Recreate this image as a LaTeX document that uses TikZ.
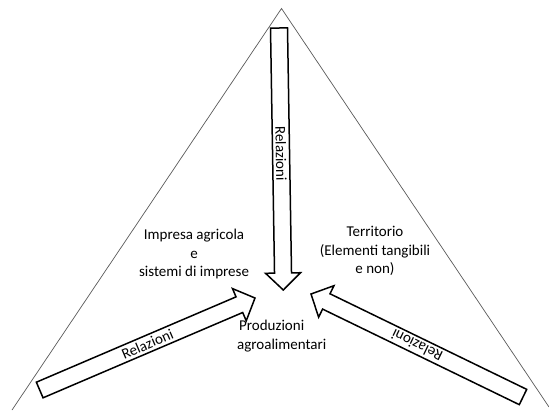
\documentclass[tikz,border=0pt]{standalone}
\usepackage{fontspec}
\setmainfont{Carlito}
\usetikzlibrary{calc}

\tikzset{
  frame line/.style={draw=black!65, line width=0.7bp},
  block arrow/.style={draw=black, line width=1.5bp, fill=white, line join=miter},
  label text/.style={font=\fontsize{15bp}{18.5bp}\selectfont, align=center, inner sep=0pt},
  arrow text/.style={font=\fontsize{15bp}{18bp}\selectfont, inner sep=0pt, sloped, allow upside down}
}

% block arrow from #1 (tail) to #2 (tip): shaft half-width, head half-width, head length
\newcommand\drawblockarrow[2]{%
  \path[block arrow]
    ($(#1)!8.5bp!90:(#2)$) --
    ($($(#2)!17bp!(#1)$)!8.5bp!90:(#2)$) --
    ($($(#2)!17bp!(#1)$)!17.5bp!90:(#2)$) --
    (#2) --
    ($($(#2)!17bp!(#1)$)!17.5bp!-90:(#2)$) --
    ($($(#2)!17bp!(#1)$)!8.5bp!-90:(#2)$) --
    ($(#1)!8.5bp!-90:(#2)$) -- cycle;
}

\begin{document}
\begin{tikzpicture}[x=1bp, y=-1bp]
  \useasboundingbox (0,0) rectangle (549,410);

  % outer triangle
  \coordinate (apex) at (281.5,8.5);
  \coordinate (left) at (12,410);
  \coordinate (right) at (549,407);
  \draw[frame line] (left) -- (apex) -- (right);

  % arrow end points
  \coordinate (topTail) at (279,28);
  \coordinate (topTip) at (283.3,290);
  \coordinate (leftTail) at (39.7,390);
  \coordinate (leftTip) at (255,298);
  \coordinate (rightTail) at (523,397);
  \coordinate (rightTip) at (311,294);

  \drawblockarrow{topTail}{topTip}
  \drawblockarrow{leftTail}{leftTip}
  \drawblockarrow{rightTail}{rightTip}

  \path (topTail) -- node[arrow text, pos=0.48] (relTop) {Relazioni} (topTip);
  \path (leftTail) -- node[arrow text, pos=0.5] (relLeft) {Relazioni} (leftTip);
  \path (rightTail) -- node[arrow text, pos=0.5] (relRight) {Relazioni} (rightTip);

  % labels
  \node[label text] (impresa) at (194,254) {Impresa agricola\\e\\sistemi di imprese};
  \node[label text] (territorio) at (375,251) {Territorio\\(Elementi tangibili\\e non)};
  \node[label text, align=left, anchor=west] (produzioni) at (237,336) {\hspace{2bp}Produzioni\\agroalimentari};
\end{tikzpicture}
\end{document}
